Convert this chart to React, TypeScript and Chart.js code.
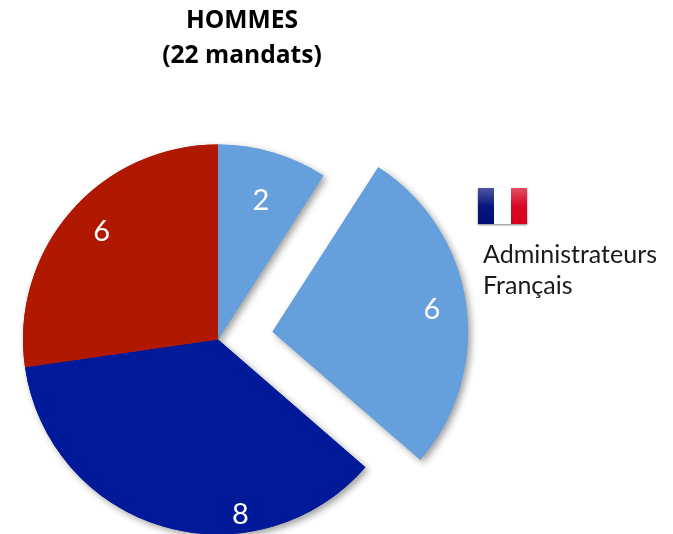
import React, { useEffect, useRef } from "react";
import { Chart, registerables } from "chart.js";

Chart.register(...registerables);

const categories = ["A", "B", "C", "D"];
const values = [2, 6, 8, 6];
const sliceColors = ["#659FDC", "#659FDC", "#001A9A", "#B01800"];
const sliceOffsets = [0, 220, 0, 0];
const titleLines = ["HOMMES", "(22 mandats)"];
const legendLines = ["Administrateurs", "Français"];

const FONT = "Lato, 'Open Sans', sans-serif";

const shadowPlugin = {
  id: "sliceShadow",
  beforeDatasetsDraw(chart: any) {
    const ctx = chart.ctx;
    ctx.save();
    ctx.shadowColor = "rgba(0,0,0,0.38)";
    ctx.shadowBlur = 7;
    ctx.shadowOffsetX = 3;
    ctx.shadowOffsetY = 3;
    chart.getDatasetMeta(0).data.forEach((arc: any) => arc.draw(ctx));
    ctx.restore();
  },
};

const labelPlugin = {
  id: "sliceLabels",
  afterDatasetsDraw(chart: any) {
    const ctx = chart.ctx;
    const arcs = chart.getDatasetMeta(0).data;
    const radii = [145, 161, 177, 159];
    const shifts = [0.8, 0.2, -23.6, 2];
    ctx.save();
    ctx.fillStyle = "#ffffff";
    ctx.font = `29px ${FONT}`;
    ctx.textAlign = "center";
    ctx.textBaseline = "middle";
    arcs.forEach((arc: any, i: number) => {
      const mid = (arc.startAngle + arc.endAngle) / 2;
      const a = mid + (shifts[i] * Math.PI) / 180;
      const ox = (Math.cos(mid) * sliceOffsets[i]) / 4;
      const oy = (Math.sin(mid) * sliceOffsets[i]) / 4;
      ctx.fillText(String(values[i]), arc.x + ox + Math.cos(a) * radii[i], arc.y + oy + Math.sin(a) * radii[i]);
    });
    ctx.restore();
  },
};

export default function App() {
  const ref = useRef<HTMLCanvasElement>(null);
  useEffect(() => {
    const chart = new Chart(ref.current!, {
      type: "pie",
      data: {
        labels: categories,
        datasets: [
          {
            data: values,
            backgroundColor: sliceColors,
            hoverBackgroundColor: sliceColors,
            borderWidth: 0,
            offset: sliceOffsets,
            clip: false,
          } as any,
        ],
      },
      options: {
        animation: false,
        responsive: false,
        radius: 195,
        layout: { padding: { top: 145, right: 48, bottom: 0, left: 0 } },
        events: [],
        plugins: {
          legend: { display: false },
          tooltip: { enabled: false },
          title: { display: false },
        },
      } as any,
      plugins: [shadowPlugin, labelPlugin],
    });
    return () => chart.destroy();
  }, []);

  return (
    <div style={{ position: "fixed", left: 0, top: 0, width: 673, height: 534, overflow: "hidden", background: "#fff" }}>
      <canvas ref={ref} width={484} height={534} style={{ position: "absolute", left: 0, top: 0 }} />
      <div
        style={{
          position: "absolute",
          left: 142,
          width: 200,
          top: 1,
          textAlign: "center",
          fontFamily: "'Open Sans', sans-serif",
          fontWeight: 700,
          fontSize: 24.6,
          lineHeight: "35px",
          color: "#000",
          whiteSpace: "pre",
        }}
      >
        {titleLines.join("\n")}
      </div>
      <div
        style={{
          position: "absolute",
          left: 478,
          top: 188,
          width: 49,
          height: 36,
          boxShadow: "0 1px 2px rgba(0,0,0,0.5)",
          background:
            "linear-gradient(180deg, rgba(255,255,255,0.3) 0%, rgba(255,255,255,0.03) 50%, rgba(255,255,255,0) 100%), linear-gradient(90deg, #000F78 0 33%, #FFFFFF 33% 67%, #D6001E 67% 100%)",
        }}
      />
      <div
        style={{
          position: "absolute",
          left: 483,
          top: 238,
          fontFamily: FONT,
          fontSize: 25,
          lineHeight: "31px",
          color: "#1a1a1a",
          whiteSpace: "pre",
        }}
      >
        {legendLines.join("\n")}
      </div>
    </div>
  );
}
